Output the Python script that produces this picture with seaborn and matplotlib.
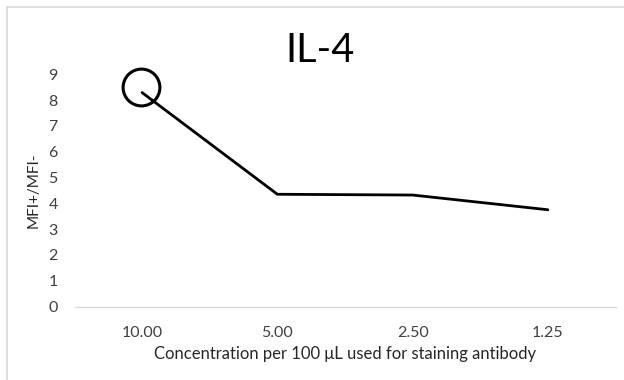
import matplotlib
matplotlib.use("Agg")
import matplotlib.pyplot as plt
import matplotlib.transforms as mtransforms
import seaborn as sns
import pandas as pd

categories = ["10.00", "5.00", "2.50", "1.25"]
values = [8.29, 4.35, 4.32, 3.75]
yticks = list(range(0, 10))

title = "IL-4"
xlabel = "Concentration per 100 \u03bcL used for staining antibody"
ylabel = "MFI+/MFI-"

sns.set_theme(style="white")
plt.rcParams["font.family"] = ["Lato", "DejaVu Sans"]

df = pd.DataFrame({"conc": categories, "ratio": values})

fig = plt.figure(figsize=(6.24, 3.8), dpi=100)
ax = fig.add_axes([74.5 / 624, 1 - 306.5 / 380, 541 / 624, (306.5 - 74.3) / 380])

sns.lineplot(data=df, x="conc", y="ratio", ax=ax, color="black", linewidth=2.0,
             sort=False)

# highlight circle around first point
off = mtransforms.offset_copy(ax.transData, fig=fig, x=-1, y=6, units="dots")
ax.plot([categories[0]], [values[0]], marker="o", markersize=26.5, fillstyle="none",
        markeredgewidth=2.2, color="black", transform=off, linestyle="none",
        clip_on=False)

ax.set_xlim(-0.5, len(categories) - 0.5)
ax.set_ylim(0, 9)
ax.set_yticks(yticks)
ax.set_yticklabels([str(t) for t in yticks])
ax.tick_params(axis="both", length=0, labelsize=11.5, colors="#404040")
ax.tick_params(axis="y", pad=12)
ax.tick_params(axis="x", pad=14)

for s in ["top", "right", "left"]:
    ax.spines[s].set_visible(False)
ax.spines["bottom"].set_color("#d9d9d9")
ax.spines["bottom"].set_linewidth(1.0)

ax.set_xlabel(xlabel, fontsize=12, color="#262626", labelpad=4)
ax.set_ylabel(ylabel, fontsize=11, color="#262626", labelpad=6)

fig.text(320 / 624, 1 - 50 / 380, title, fontsize=28.5, ha="center", va="center",
         color="black")

# chart frame (top and left edges visible)
fig.add_artist(plt.Line2D([6.5 / 624, 6.5 / 624], [0, 1 - 7 / 380], color="#d9d9d9",
                          linewidth=1.2, transform=fig.transFigure))
fig.add_artist(plt.Line2D([6.5 / 624, 1], [1 - 7 / 380, 1 - 7 / 380], color="#d9d9d9",
                          linewidth=1.2, transform=fig.transFigure))

fig.savefig("out.png", dpi=100)
